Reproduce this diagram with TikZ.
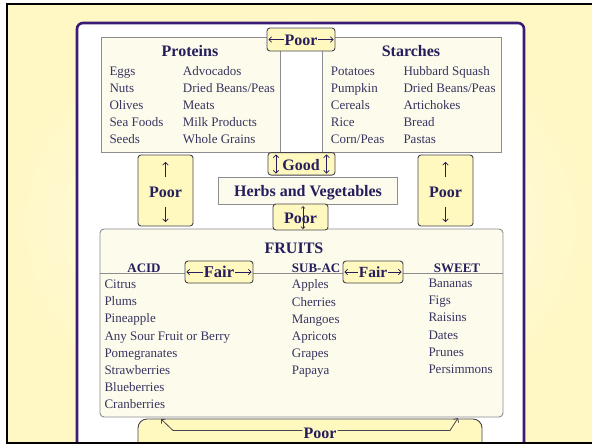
\documentclass[tikz,border=0pt]{standalone}
\usepackage{fontspec}
\setmainfont{Liberation Serif}
\usetikzlibrary{arrows.meta}
\definecolor{bgyel}{RGB}{255,247,196}
\definecolor{framec}{RGB}{58,28,118}
\definecolor{cream}{RGB}{253,251,236}
\definecolor{poorfill}{RGB}{255,249,192}
\definecolor{navy}{RGB}{38,30,92}
\definecolor{itemc}{RGB}{56,52,96}
\definecolor{boxline}{RGB}{140,140,145}
\definecolor{pline}{RGB}{70,68,78}
\begin{document}
\begin{tikzpicture}[x=1pt,y=-1pt,
  catbox/.style={draw=boxline, fill=cream, line width=0.9pt, inner sep=0pt, outer sep=0pt},
  poorbox/.style={draw=pline, fill=poorfill, line width=0.9pt, rounded corners=3pt, inner sep=0pt, outer sep=0pt},
  head/.style={font=\bfseries\fontsize{16}{18}\selectfont, text=navy, inner sep=0pt, anchor=base},
  sub/.style={font=\bfseries\fontsize{13}{15}\selectfont, text=navy, inner sep=0pt, anchor=base},
  item/.style={font=\fontsize{13}{15}\selectfont, text=itemc, inner sep=0pt, anchor=base west},
  barb/.style={-{Straight Barb[length=3pt,width=6pt]}, line width=0.8pt, draw=pline},
  arr/.style={-{Straight Barb[length=2.6pt,width=5.5pt]}, line width=0.75pt, draw=navy},
  darr/.style={{Straight Barb[length=2.6pt,width=5.5pt]}-{Straight Barb[length=2.6pt,width=5.5pt]}, line width=0.75pt, draw=navy},
]
\useasboundingbox (0,0) rectangle (592,445);
\fill[white] (0,0) rectangle (592,445);
\shade[inner color=white, outer color=bgyel] (7,4) rectangle (592,443);
% purple frame
\begin{scope}
\clip (0,0) rectangle (592,443);
\draw[framec, line width=2.6pt, rounded corners=6pt, fill=white] (77,23) rectangle (524,470);
\end{scope}

% category boxes
\node[catbox, minimum width=179pt, minimum height=115pt] (prot) at (190.5,94.5) {};
\node[catbox, minimum width=179pt, minimum height=115pt] (star) at (411.5,94.5) {};
\node[catbox, minimum width=179pt, minimum height=27pt] (herb) at (307.5,190.5) {};
\node[catbox, rounded corners=4pt, minimum width=403pt, minimum height=188pt] (fruit) at (301.5,323) {};
\coordinate (hl) at (100,273);
\coordinate (hr) at (503,273);
\draw[boxline, line width=0.9pt] (hl) -- (hr);

% titles
\node[head] (tprot) at (190,56.5) {Proteins};
\node[head] (tstar) at (411,56.5) {Starches};
\node[head] (therb) at (308,196) {Herbs and Vegetables};
\node[head] (tfruit) at (294,253) {FRUITS};
\node[sub] (tacid) at (144,272.5) {ACID};
\node[sub, anchor=base west] (tsub) at (291.7,272.5) {SUB-AC};
\node[sub] (tsweet) at (457,272) {SWEET};

% protein items
\foreach \t [count=\i] in {Eggs,Nuts,Olives,Sea Foods,Seeds}
  \node[item] (pa\i) at (109.3,{75.5+16.9*(\i-1)}) {\t};
\foreach \t [count=\i] in {Advocados,Dried Beans/Peas,Meats,Milk Products,Whole Grains}
  \node[item] (pb\i) at (182.7,{75.5+16.9*(\i-1)}) {\t};
% starch items
\foreach \t [count=\i] in {Potatoes,Pumpkin,Cereals,Rice,Corn/Peas}
  \node[item] (sa\i) at (330.7,{75.5+16.9*(\i-1)}) {\t};
\foreach \t [count=\i] in {Hubbard Squash,Dried Beans/Peas,Artichokes,Bread,Pastas}
  \node[item] (sb\i) at (403.3,{75.5+16.9*(\i-1)}) {\t};
% fruit items
\foreach \t [count=\i] in {Citrus,Plums,Pineapple,Any Sour Fruit or Berry,Pomegranates,Strawberries,Blueberries,Cranberries}
  \node[item] (fa\i) at (104.3,{288.5+17.2*(\i-1)}) {\t};
\foreach \t [count=\i] in {Apples,Cherries,Mangoes,Apricots,Grapes,Papaya}
  \node[item] (fb\i) at (291.7,{288.8+17.2*(\i-1)}) {\t};
\foreach \t [count=\i] in {Bananas,Figs,Raisins,Dates,Prunes,Persimmons}
  \node[item] (fc\i) at (428.3,{287.5+17.2*(\i-1)}) {\t};

% compatibility boxes
% top: Poor with left/right arrows
\node[poorbox, minimum width=68pt, minimum height=23pt] (ptop) at (301,39.5) {};
\node[head] (ptoptxt) at (301,45) {Poor};
\draw[arr] ([xshift=-0.5pt]ptoptxt.west |- ptop.center) -- ([xshift=1.5pt]ptop.west);
\draw[arr] ([xshift=0.5pt]ptoptxt.east |- ptop.center) -- ([xshift=-1.5pt]ptop.east);
% Good with up-down arrows
\node[poorbox, minimum width=67pt, minimum height=22.5pt] (good) at (301.5,163.8) {};
\node[head] (goodtxt) at (301,170) {Good};
\coordinate (gl1) at (276,154.5);
\coordinate (gl2) at (276,173.5);
\coordinate (gr1) at (326.5,154.5);
\coordinate (gr2) at (326.5,173.5);
\draw[darr] (gl1) -- (gl2);
\draw[darr] (gr1) -- (gr2);
% side Poor boxes
\node[poorbox, minimum width=55pt, minimum height=71pt] (pleft) at (165.5,190.5) {};
\node[head] (pltxt) at (165.5,197.5) {Poor};
\coordinate (plu1) at (165.5,177);
\coordinate (plu2) at (165.5,162);
\coordinate (pld1) at (165.5,207);
\coordinate (pld2) at (165.5,222);
\draw[arr] (plu1) -- (plu2);
\draw[arr] (pld1) -- (pld2);
\node[poorbox, minimum width=55pt, minimum height=71pt] (pright) at (445.5,190.5) {};
\node[head] (prtxt) at (445.5,197.5) {Poor};
\coordinate (pru1) at (445.5,177);
\coordinate (pru2) at (445.5,162);
\coordinate (prd1) at (445.5,207);
\coordinate (prd2) at (445.5,222);
\draw[arr] (pru1) -- (pru2);
\draw[arr] (prd1) -- (prd2);
% middle Poor
\node[poorbox, minimum width=55pt, minimum height=26pt] (pmid) at (300.5,217) {};
\node[head] (pmidtxt) at (300.5,223.3) {Poor};
\coordinate (pma) at (303,206);
\coordinate (pmb) at (303,229);
\draw[navy, line width=0.6pt, {Straight Barb[length=2pt,width=4pt]}-{Straight Barb[length=2pt,width=4pt]}] (pma) -- (pmb);
% Fair boxes
\node[poorbox, minimum width=68pt, minimum height=22pt] (fair1) at (219,272) {};
\node[head, font=\bfseries\fontsize{16.5}{18}\selectfont] (fair1txt) at (219,277.5) {Fair};
\draw[arr] ([xshift=-0.5pt]fair1txt.west |- fair1.center) -- ([xshift=1.5pt]fair1.west);
\draw[arr] ([xshift=0.5pt]fair1txt.east |- fair1.center) -- ([xshift=-1.5pt]fair1.east);
\node[poorbox, minimum width=60pt, minimum height=22pt] (fair2) at (373,272) {};
\node[head, font=\bfseries\fontsize{15.5}{17}\selectfont] (fair2txt) at (373,277) {Fair};
\draw[arr] ([xshift=-0.5pt]fair2txt.west |- fair2.center) -- ([xshift=1.5pt]fair2.west);
\draw[arr] ([xshift=0.5pt]fair2txt.east |- fair2.center) -- ([xshift=-1.5pt]fair2.east);

% bottom poor
\begin{scope}
\clip (0,0) rectangle (592,443);
\node[poorbox, rounded corners=9pt, minimum width=344pt, minimum height=34pt] (pbot) at (310,436) {};
\end{scope}
\node[head, inner xsep=1pt] (pbottxt) at (320,438.5) {Poor};
\coordinate (bl1) at (173,430.5);
\coordinate (bl2) at (161,419);
\coordinate (br1) at (450,430.5);
\coordinate (br2) at (458,418);
\draw[barb] (pbottxt.west |- bl1) -- (bl1) -- (bl2);
\draw[barb] (pbottxt.east |- br1) -- (br1) -- (br2);

% outer black frame
\draw[black, line width=2.6pt] (592,4) -- (7,4) -- (7,443) -- (592,443);
\end{tikzpicture}
\end{document}
